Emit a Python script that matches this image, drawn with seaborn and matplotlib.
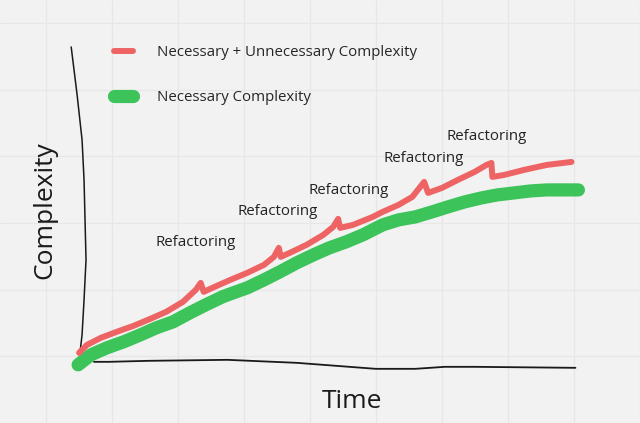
import numpy as np
import pandas as pd
import matplotlib
matplotlib.use("Agg")
import matplotlib.pyplot as plt
import seaborn as sns

# hand-drawn curves, time vs complexity (arbitrary units)
red_t = [0, 0.16, 0.44, 0.76, 1.10, 1.44, 1.76, 2.10, 2.36, 2.46, 2.52, 2.74, 3.06,
         3.40, 3.74, 3.94, 4.04, 4.08, 4.26, 4.60, 4.94, 5.14, 5.24, 5.28, 5.54,
         5.94, 6.14, 6.46, 6.74, 6.90, 6.98, 7.06, 7.34, 7.66, 8.00, 8.24, 8.34,
         8.36, 8.60, 9.00, 9.46, 9.96]
red_c = [0.24, 0.40, 0.54, 0.66, 0.78, 0.92, 1.06, 1.26, 1.50, 1.64, 1.46, 1.56, 1.70,
         1.84, 2.00, 2.16, 2.34, 2.16, 2.24, 2.40, 2.60, 2.76, 2.92, 2.74, 2.80,
         2.96, 3.06, 3.20, 3.36, 3.56, 3.66, 3.44, 3.54, 3.70, 3.86, 4.00, 4.04,
         3.76, 3.80, 3.90, 4.00, 4.06]

green_t = [-0.02, 0.24, 0.56, 0.90, 1.24, 1.56, 1.90, 2.24, 2.56, 2.90, 3.06, 3.40,
           3.74, 4.06, 4.40, 4.74, 5.06, 5.40, 5.74, 6.14, 6.46, 6.80, 7.14, 7.46,
           7.80, 8.14, 8.46, 8.80, 9.14, 9.46, 10.10]
green_c = [0.0, 0.20, 0.34, 0.46, 0.60, 0.74, 0.86, 1.04, 1.20, 1.36, 1.42, 1.54,
           1.70, 1.86, 2.04, 2.20, 2.34, 2.46, 2.60, 2.80, 2.90, 2.96, 3.06, 3.16,
           3.26, 3.34, 3.40, 3.44, 3.48, 3.50, 3.50]

# sketched axes
yaxis_t = [-0.16, -0.04, 0.06, 0.10, 0.12, 0.14, 0.10, 0.06, 0.02]
yaxis_c = [6.36, 5.40, 4.50, 3.70, 2.90, 2.10, 1.30, 0.60, 0.26]
xaxis_t = [0.30, 0.60, 1.40, 3.00, 4.40, 5.20, 6.00, 6.80, 7.40, 8.00, 10.04]
xaxis_c = [0.06, 0.06, 0.08, 0.10, 0.04, -0.02, -0.08, -0.08, -0.04, -0.04, -0.06]

refactor_t = [1.54, 3.20, 4.64, 6.16, 7.44]
refactor_c = [2.44, 3.06, 3.48, 4.12, 4.56]

RED = "#ee6464"
GREEN = "#3cc35a"

sns.set_theme(style="whitegrid", rc={
    "axes.facecolor": "#f2f2f2",
    "figure.facecolor": "#f2f2f2",
    "grid.color": "#e7e7e7",
    "grid.linewidth": 0.9,
})
plt.rcParams["font.family"] = ["Open Sans", "DejaVu Sans"]

fig = plt.figure(figsize=(6.4, 4.23), dpi=100)
ax = fig.add_axes([0, 0, 1, 1])

red = pd.DataFrame({"t": red_t, "c": red_c})
green = pd.DataFrame({"t": green_t, "c": green_c})

sns.lineplot(data=pd.DataFrame({"t": yaxis_t, "c": yaxis_c}), x="t", y="c", sort=False,
             estimator=None, color="#1a1a1a", linewidth=1.1, ax=ax)
sns.lineplot(data=pd.DataFrame({"t": xaxis_t, "c": xaxis_c}), x="t", y="c", sort=False,
             estimator=None, color="#1a1a1a", linewidth=1.3, ax=ax)
sns.lineplot(data=green, x="t", y="c", sort=False, estimator=None, color=GREEN,
             linewidth=9.5, solid_capstyle="round", solid_joinstyle="round", ax=ax,
             label="Necessary Complexity")
sns.lineplot(data=red, x="t", y="c", sort=False, estimator=None, color=RED,
             linewidth=4.3, solid_capstyle="round", solid_joinstyle="round", ax=ax,
             label="Necessary + Unnecessary Complexity")

for t, c in zip(refactor_t, refactor_c):
    ax.text(t, c, "Refactoring", fontsize=10.8, color="#222222", ha="left", va="center")

ax.text(-0.7, 3.1, "Complexity", fontsize=19, rotation=90, color="#1a1a1a",
        ha="center", va="center")
ax.text(5.52, -0.74, "Time", fontsize=19, color="#1a1a1a", ha="center", va="center")

handles, labels = ax.get_legend_handles_labels()
ax.legend(handles[::-1], labels[::-1], loc="upper left", bbox_to_anchor=(0.178, 0.893),
          frameon=False, fontsize=10.8, handlelength=1.3, handletextpad=1.55,
          labelspacing=2.0, borderpad=0, borderaxespad=0)

ax.set_xlim(-1.6, 11.2)
ax.set_ylim(-1.16, 7.3)
ax.set_xticks(np.arange(0, 10) * 1.334 - 0.66)
ax.set_yticks(6.84 - np.arange(0, 7) * 1.334)
ax.tick_params(length=0, labelbottom=False, labelleft=False)
ax.set_xlabel("")
ax.set_ylabel("")
for s in ax.spines.values():
    s.set_visible(False)

fig.savefig("out.png", dpi=100)
